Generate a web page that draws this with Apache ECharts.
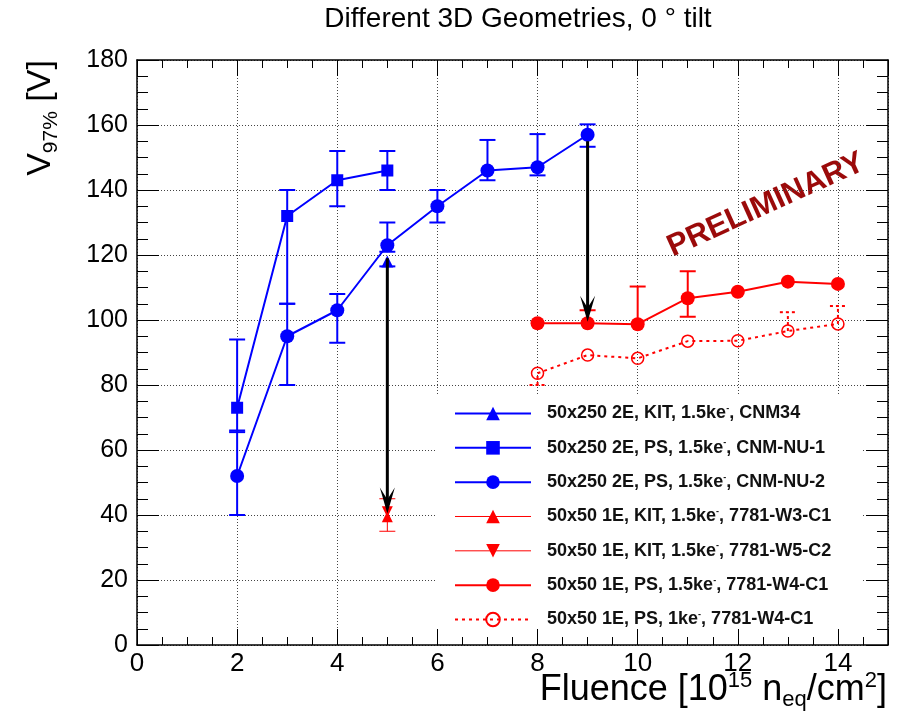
<!DOCTYPE html>
<html>
<head>
<meta charset="utf-8">
<script src="https://cdn.jsdelivr.net/npm/echarts@6/dist/echarts.min.js"></script>
<style>
html, body { margin: 0; background: #fff; }
#chart { width: 897px; height: 715px; }
</style>
</head>
<body>
<div id="chart"></div>
<script>
// values
var nu2X = [2, 3, 4, 5, 6, 7, 8, 9];
var nu2Y = [52, 95, 103, 123, 135, 146, 147, 157];
var nu2Lo = [40, 80, 93, 121, 130, 143, 144.5, 153.3];
var nu2Hi = [66, 105, 108, 130, 140, 155.4, 157.2, 160.2];

var nu1X = [2, 3, 4, 5];
var nu1Y = [73, 132, 143, 146];
var nu1Lo = [65.5, 105, 135, 140];
var nu1Hi = [94, 140, 152, 152];

var cnm34X = [5];
var cnm34Y = [118];
var cnm34Lo = [116.5];
var cnm34Hi = [118];

var w3X = [5];
var w3Y = [39.5];
var w3Lo = [35];
var w3Hi = [45];

var w5X = [5];
var w5Y = [41];

var w4X = [8, 9, 10, 11, 12, 13, 14];
var w4Y = [99, 99, 98.7, 106.7, 108.7, 111.8, 111.1];
var w4Lo = [99, 99, 98.7, 101, 108.7, 111.8, 111.1];
var w4Hi = [99, 103, 110.3, 115, 108.7, 111.8, 111.1];

var w4bX = [8, 9, 10, 11, 12, 13, 14];
var w4bY = [83.6, 89.2, 88.2, 93.5, 93.6, 96.6, 98.8];
var w4bLo = [80, 89.2, 88.2, 93.5, 93.6, 96.6, 98.8];
var w4bHi = [83.6, 89.2, 88.2, 93.5, 93.6, 102.4, 104.3];

var arrowX = [5, 9];
var arrowFrom = [119, 155];
var arrowTo = [40.5, 99.5];

var names = [
	'50x250 2E, KIT, 1.5ke, CNM34',
	'50x250 2E, PS, 1.5ke, CNM-NU-1',
	'50x250 2E, PS, 1.5ke, CNM-NU-2',
	'50x50 1E, KIT, 1.5ke, 7781-W3-C1',
	'50x50 1E, KIT, 1.5ke, 7781-W5-C2',
	'50x50 1E, PS, 1.5ke, 7781-W4-C1',
	'50x50 1E, PS, 1ke, 7781-W4-C1'
];
var legendWidths = [2, 2, 2, 1, 1, 2, 2];

var FONT = '"Liberation Sans", Arial, Helvetica, sans-serif';
var BLUE = '#0000ff';
var RED = '#ff0000';

function pairs(xs, ys) {
	var out = [];
	for (var i = 0; i < xs.length; i++) out.push([xs[i], ys[i]]);
	return out;
}

function lineSeries(name, xs, ys, color, symbol, size, width, dash, extra) {
	var s = {
		name: name,
		type: 'line',
		data: pairs(xs, ys),
		symbol: symbol,
		symbolSize: size,
		showAllSymbol: true,
		z: 3,
		itemStyle: { color: color },
		lineStyle: { color: color, width: width, type: dash || 'solid' }
	};
	for (var k in extra) s[k] = extra[k];
	return s;
}

// vertical error bars with caps
function errSeries(xs, ys, lo, hi, color, width, dash) {
	var data = [];
	for (var i = 0; i < xs.length; i++) data.push([xs[i], ys[i], lo[i], hi[i]]);
	return {
		type: 'custom',
		data: data,
		z: 2,
		silent: true,
		encode: { x: 0, y: 1 },
		renderItem: function (params, api) {
			var x = api.value(0), y = api.value(1), l = api.value(2), h = api.value(3);
			var pL = api.coord([x, l]);
			var pH = api.coord([x, h]);
			var st = { stroke: color, lineWidth: width, lineDash: dash || null, fill: null };
			var kids = [];
			if (pL[1] - pH[1] > 0.5) {
				kids.push({ type: 'line', shape: { x1: pL[0], y1: pL[1], x2: pH[0], y2: pH[1] }, style: st });
			}
			if (l < y) kids.push({ type: 'line', shape: { x1: pL[0] - 8, y1: pL[1], x2: pL[0] + 8, y2: pL[1] }, style: st });
			if (h > y) kids.push({ type: 'line', shape: { x1: pH[0] - 8, y1: pH[1], x2: pH[0] + 8, y2: pH[1] }, style: st });
			return { type: 'group', children: kids };
		}
	};
}

var arrowData = [];
for (var i = 0; i < arrowX.length; i++) arrowData.push([arrowX[i], arrowFrom[i], arrowTo[i]]);

var series = [
	errSeries(nu2X, nu2Y, nu2Lo, nu2Hi, BLUE, 2),
	errSeries(nu1X, nu1Y, nu1Lo, nu1Hi, BLUE, 2),
	errSeries(cnm34X, cnm34Y, cnm34Lo, cnm34Hi, BLUE, 2),
	errSeries(w3X, w3Y, w3Lo, w3Hi, RED, 1),
	errSeries(w4X, w4Y, w4Lo, w4Hi, RED, 2),
	errSeries(w4bX, w4bY, w4bLo, w4bHi, RED, 2, [3, 3]),
	lineSeries(names[0], cnm34X, cnm34Y, BLUE, 'triangle', 12, 2),
	lineSeries(names[1], nu1X, nu1Y, BLUE, 'rect', 12, 2),
	lineSeries(names[2], nu2X, nu2Y, BLUE, 'circle', 14, 2),
	lineSeries(names[3], w3X, w3Y, RED, 'triangle', 11, 1),
	lineSeries(names[4], w5X, w5Y, RED, 'triangle', 11, 1, null, { symbolRotate: 180 }),
	lineSeries(names[5], w4X, w4Y, RED, 'circle', 14, 2),
	lineSeries(names[6], w4bX, w4bY, RED, 'circle', 12, 2, [3, 4], {
		itemStyle: { color: 'rgba(255,255,255,0)', borderColor: RED, borderWidth: 1.5 }
	}),
	{
		// black arrows
		type: 'custom',
		data: arrowData,
		z: 4,
		silent: true,
		encode: { x: 0, y: [1, 2] },
		renderItem: function (params, api) {
			var x = api.value(0);
			var a = api.coord([x, api.value(1)]);
			var b = api.coord([x, api.value(2)]);
			return {
				type: 'group',
				children: [{
					type: 'line',
					shape: { x1: a[0], y1: a[1], x2: b[0], y2: b[1] - 12 },
					style: { stroke: '#000', lineWidth: 3 }
				}, {
					type: 'polygon',
					shape: { points: [[b[0], b[1]], [b[0] - 7.5, b[1] - 26], [b[0], b[1] - 14], [b[0] + 7.5, b[1] - 26]] },
					style: { fill: '#000' }
				}]
			};
		}
	}
];

function xAxisOpt(pos, labels) {
	return {
		type: 'value',
		position: pos,
		min: 0,
		max: 15,
		interval: 2,
		axisLine: { show: true, onZero: false, lineStyle: { color: '#000', width: 1.5 } },
		axisTick: { show: true, inside: true, length: 16, lineStyle: { color: '#000', width: 1 } },
		minorTick: { show: true, splitNumber: 4, length: 8, lineStyle: { color: '#000', width: 1 } },
		splitLine: { show: labels, lineStyle: { color: '#444', type: [1, 2], width: 1 } },
		axisLabel: {
			show: labels, color: '#000', fontSize: 26, fontFamily: FONT, margin: 6,
			formatter: function (v) { return v % 2 === 0 ? String(v) : ''; }
		}
	};
}

function yAxisOpt(pos, labels) {
	return {
		type: 'value',
		position: pos,
		min: 0,
		max: 180,
		interval: 20,
		axisLine: { show: true, onZero: false, lineStyle: { color: '#000', width: 1.5 } },
		axisTick: { show: true, inside: true, length: 22, lineStyle: { color: '#000', width: 1 } },
		minorTick: { show: true, splitNumber: 4, length: 11, lineStyle: { color: '#000', width: 1 } },
		splitLine: { show: labels, lineStyle: { color: '#444', type: [1, 2], width: 1 } },
		axisLabel: { show: labels, color: '#000', fontSize: 25, fontFamily: FONT, margin: 9 }
	};
}

var legendData = [];
for (var j = 0; j < names.length; j++) {
	legendData.push({ name: names[j], lineStyle: { width: legendWidths[j] } });
}

var option = {
	animation: false,
	backgroundColor: '#fff',
	grid: { left: 137, right: 9, top: 60, bottom: 70, containLabel: false },
	xAxis: [xAxisOpt('bottom', true), xAxisOpt('top', false)],
	yAxis: [yAxisOpt('left', true), yAxisOpt('right', false)],
	legend: {
		data: legendData,
		orient: 'vertical',
		left: 454,
		top: 404,
		padding: 0,
		itemWidth: 76,
		itemHeight: 17,
		itemGap: 15.33,
		selectedMode: false,
		formatter: function (name) {
			return '{g| }{t|' + name.replace('ke,', 'ke}{s|-}{t|,') + '}';
		},
		textStyle: {
			rich: {
				g: { width: 11, fontSize: 14 },
				t: { fontSize: 18, fontWeight: 'bold', fontFamily: FONT, color: '#111', lineHeight: 18 },
				s: { fontSize: 9, fontWeight: 'bold', fontFamily: FONT, color: '#111', lineHeight: 9, padding: [0, 0, 10, 0] }
			}
		}
	},
	graphic: [{
		// white legend box hiding the grid
		type: 'rect',
		z: 1,
		shape: { x: 436, y: 395, width: 426, height: 233 },
		style: { fill: '#fff' }
	}, {
		type: 'text',
		x: 518,
		y: 19,
		style: {
			text: 'Different 3D Geometries, 0 \u00b0 tilt',
			fontSize: 28, fontFamily: FONT, fill: '#000', align: 'center', verticalAlign: 'middle'
		}
	}, {
		type: 'text',
		x: 41,
		y: 118,
		rotation: Math.PI / 2,
		style: {
			text: '{a|V}{b|97%}{a| [V]}',
			align: 'center',
			verticalAlign: 'middle',
			rich: {
				a: { fontSize: 34, fontFamily: FONT, fill: '#000', lineHeight: 36 },
				b: { fontSize: 21, fontFamily: FONT, fill: '#000', lineHeight: 21, padding: [20, 0, 0, 0] }
			}
		}
	}, {
		type: 'text',
		x: 887,
		y: 690,
		style: {
			text: '{a|Fluence [10}{p|15}{a| n}{b|eq}{a|/cm}{p|2}{a|]}',
			align: 'right',
			verticalAlign: 'middle',
			rich: {
				a: { fontSize: 36, fontFamily: FONT, fill: '#000', lineHeight: 40 },
				b: { fontSize: 22, fontFamily: FONT, fill: '#000', lineHeight: 22, padding: [20, 0, 0, 0] },
				p: { fontSize: 22, fontFamily: FONT, fill: '#000', lineHeight: 22, padding: [0, 0, 19, 0] }
			}
		}
	}, {
		type: 'text',
		x: 766,
		y: 205,
		rotation: 0.426,
		style: {
			text: 'PRELIMINARY',
			fontSize: 31, fontWeight: 'bold', fontFamily: FONT, fill: '#9b0a0a',
			align: 'center', verticalAlign: 'middle'
		}
	}],
	series: series
};

var myChart = echarts.init(document.getElementById('chart'));
myChart.setOption(option);
</script>
</body>
</html>
